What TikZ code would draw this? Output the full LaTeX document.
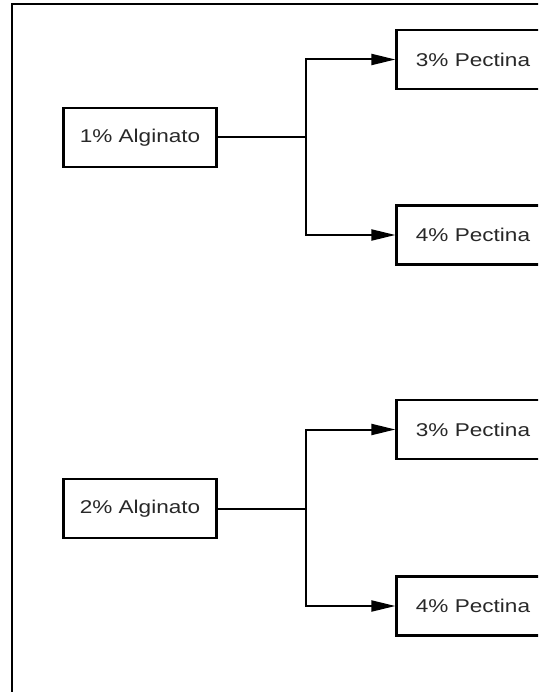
\documentclass[tikz,border=0pt]{standalone}
\usepackage{fontspec}
\usetikzlibrary{arrows.meta, positioning}
\newfontfamily\boxfont[FakeStretch=1.22]{Liberation Sans}
\definecolor{boxtext}{RGB}{40, 40, 40}

\tikzset{
    sample/.style={draw, line width=2.2pt, minimum width=153pt, minimum height=59pt,
        inner sep=0pt, font=\boxfont\fontsize{18.5}{20}\selectfont, text=boxtext},
    branch/.style={line width=2pt},
    arrowto/.style={branch, -{Triangle[length=24pt, width=11pt]}}
}

\begin{document}
\begin{tikzpicture}[x=1pt, y=-1pt]
        \useasboundingbox (0,0) rectangle (538,692);
        \clip (0,0) rectangle (538,692);

        % frame
        \draw[line width=2.4pt] (12,720) -- (12,4) -- (560,4);

        % alginato
        \node[sample] (alg1) at (140,137.5) {1\% Alginato};
        \node[sample] (alg2) at (140,508.5) {2\% Alginato};

        % pectina
        \node[sample] (pec1) at (473,59.5) {3\% Pectina};
        \node[sample] (pec2) at (473,235) {4\% Pectina};
        \node[sample] (pec3) at (473,429.5) {3\% Pectina};
        \node[sample] (pec4) at (473,606) {4\% Pectina};

        \coordinate (split1) at (306,137.5);
        \coordinate (split2) at (306,508.5);

        \draw[branch] (alg1.east) -- (split1);
        \draw[arrowto] (split1) |- (pec1.west);
        \draw[arrowto] (split1) |- (pec2.west);

        \draw[branch] (alg2.east) -- (split2);
        \draw[arrowto] (split2) |- (pec3.west);
        \draw[arrowto] (split2) |- (pec4.west);

    \end{tikzpicture}
\end{document}
